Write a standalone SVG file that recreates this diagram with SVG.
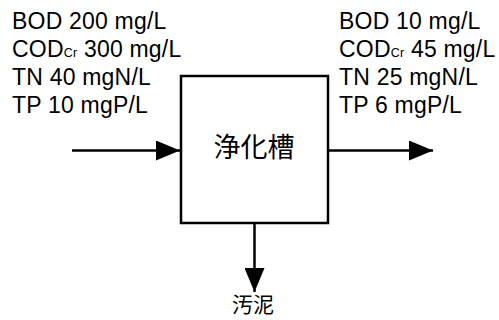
<svg xmlns="http://www.w3.org/2000/svg" width="499" height="320" viewBox="0 0 499 320">
<style>
.t{font-family:"Liberation Sans",Arial,sans-serif;font-size:23px;letter-spacing:0.2px;fill:#000}
.s{font-size:12.5px;letter-spacing:0.2px}
.j{font-family:"Noto Sans CJK JP","Noto Sans CJK SC",sans-serif;fill:#000;text-anchor:middle}
.ln{stroke:#000;stroke-width:2.5;fill:none}
</style>
<defs>
<marker id="ah" markerUnits="userSpaceOnUse" markerWidth="24" markerHeight="20" refX="24" refY="10" orient="auto">
<path d="M0,0 L24,10 L0,20 Z" fill="#000"/>
</marker>
</defs>
<rect width="499" height="320" fill="#fff"/>
<g id="influent">
<text class="t" x="12" y="29">BOD 200 mg/L</text>
<text class="t" x="12" y="57">COD<tspan class="s">Cr</tspan> 300 mg/L</text>
<text class="t" x="12" y="85">TN 40 mgN/L</text>
<text class="t" x="12" y="113">TP 10 mgP/L</text>
</g>
<g id="effluent">
<text class="t" x="339" y="29">BOD 10 mg/L</text>
<text class="t" x="339" y="57">COD<tspan class="s">Cr</tspan> 45 mg/L</text>
<text class="t" x="339" y="85">TN 25 mgN/L</text>
<text class="t" x="339" y="113">TP 6 mgP/L</text>
</g>
<g id="tank">
<rect x="181" y="76" width="147" height="147" fill="#fff" stroke="#000" stroke-width="2.5"/>
<text class="j" x="254" y="157" font-size="27">浄化槽</text>
</g>
<g id="sludge">
<text class="j" x="253" y="312" font-size="21">汚泥</text>
</g>
<g id="connectors">
<line class="ln" x1="72" y1="150.5" x2="180" y2="150.5" marker-end="url(#ah)"/>
<line class="ln" x1="328" y1="150.5" x2="433" y2="150.5" marker-end="url(#ah)"/>
<line class="ln" x1="254.5" y1="223" x2="254.5" y2="292" marker-end="url(#ah)"/>
</g>
</svg>
